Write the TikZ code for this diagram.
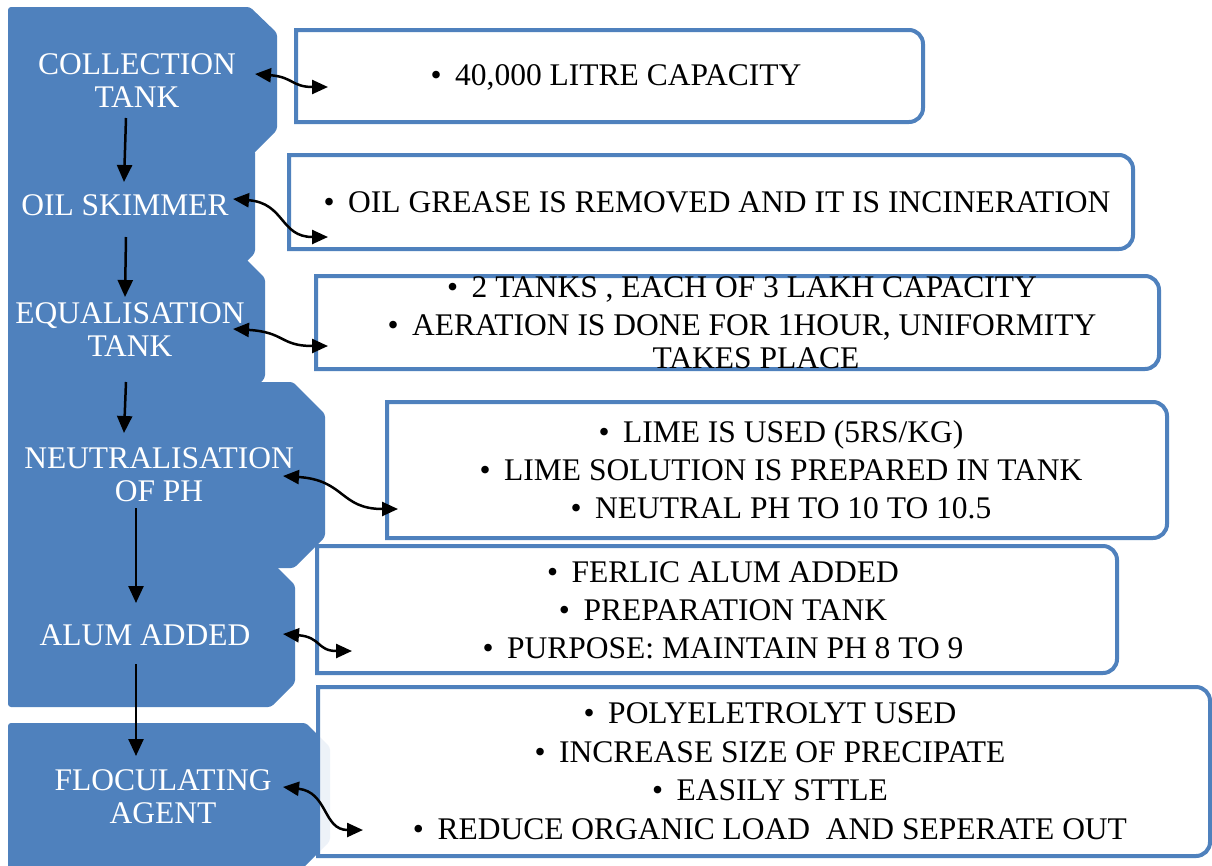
\documentclass[tikz,border=0pt]{standalone}
\usepackage{fontspec}
\setmainfont{Liberation Serif}
\usetikzlibrary{arrows.meta}
\definecolor{sblue}{HTML}{4F81BD}
\newcommand\bul{•\hspace{0.43em}}
\newcommand\rrbox[5][]{\path[infobox,#1] (#2,#3) -- (#4-14,#3) arc[start angle=90,end angle=0,radius=14pt] -- (#4,#5-14) arc[start angle=0,end angle=-90,radius=14pt] -- (#2,#5) -- cycle;}
\tikzset{
  blueshape/.style={fill=sblue, draw=none, rounded corners=3pt},
  infobox/.style={draw=sblue, line width=4pt, fill=white},
  lefttext/.style={text=white, align=center, inner sep=0pt, font=\fontsize{31.5}{33}\selectfont},
  righttext/.style={text=black, align=center, inner sep=0pt},
  flow/.style={line width=2.5pt, -{Triangle[length=17pt,width=15pt]}},
  link/.style={line width=2.5pt, {Triangle[length=16pt,width=14pt]}-{Triangle[length=16pt,width=14pt]}},
}
\begin{document}
\begin{tikzpicture}[x=1pt,y=-1pt]
\fill[white] (0,0) rectangle (1212,865);
\useasboundingbox (0,0) rectangle (1212,865);
% left blue step shapes
\path[blueshape] (8,7) -- (250,7) -- (277,33) -- (277,130) -- (247,160) -- (8,160) -- cycle;
\path[blueshape] (8,150) -- (255,150) -- (255,253) -- (240,268) -- (8,268) -- cycle;
\path[blueshape] (8,258) -- (245,258) -- (265,278) -- (265,378) -- (255,388) -- (8,388) -- cycle;
\path[blueshape] (8,382) -- (293,382) -- (325,414) -- (325,537) -- (294,568) -- (8,568) -- cycle;
\path[blueshape] (8,560) -- (270,560) -- (295,585) -- (295,683) -- (271,707) -- (8,707) -- cycle;
\path[blueshape] (8,723) -- (306,723) -- (330,747) -- (330,841) -- (300,871) -- (8,871) -- cycle;
% right info boxes
\rrbox{296}{30}{923}{122}
\rrbox{289}{155}{1133}{249}
\rrbox{316}{276}{1159}{369}
\rrbox{387}{402}{1167}{538}
\rrbox{317}{546}{1117}{673}
\rrbox[fill opacity=0.9]{318}{687}{1210}{856}
% left labels
\node[lefttext] (c1) at (137,84.1) {\strut COLLECTION\\\strut TANK};
\node[lefttext] (c2) at (125,208.85) {\strut OIL SKIMMER};
\node[lefttext] (c3) at (130,333.1) {\strut EQUALISATION\\\strut TANK};
\node[lefttext] (c4) at (159,478.1) {\strut NEUTRALISATION\\\strut OF PH};
\node[lefttext] (c5) at (145,638.85) {\strut ALUM ADDED};
\node[lefttext] (c6) at (163,800.1) {\strut FLOCULATING\\\strut AGENT};
% right texts
\node[righttext, font=\fontsize{31.5}{38}\selectfont] (d1) at (616,77.85) {\strut\bul 40,000 LITRE CAPACITY};
\node[righttext, font=\fontsize{31.5}{38}\selectfont] (d2) at (717,204.85) {\strut\bul OIL GREASE IS REMOVED AND IT IS INCINERATION};
\node[righttext, font=\fontsize{31.5}{37.5}\selectfont] (d3) at (742,325.7) {\strut\bul 2 TANKS , EACH OF 3 LAKH CAPACITY\\\strut\bul AERATION IS DONE FOR 1HOUR, UNIFORMITY\\[-4.5pt]\strut\hspace*{28pt}TAKES PLACE};
\node[righttext, font=\fontsize{31.5}{38}\selectfont] (d4) at (781,473.1) {\strut\bul LIME IS USED (5RS/KG)\\\strut\bul LIME SOLUTION IS PREPARED IN TANK\\\strut\bul NEUTRAL PH TO 10 TO 10.5};
\node[righttext, font=\fontsize{31.5}{38}\selectfont] (d5) at (723,612.85) {\strut\bul FERLIC ALUM ADDED\\\strut\bul PREPARATION TANK\\\strut\bul PURPOSE: MAINTAIN PH 8 TO 9};
\node[righttext, font=\fontsize{31.5}{38.7}\selectfont] (d6) at (770,773.7) {\strut\bul POLYELETROLYT USED\\\strut\bul INCREASE SIZE OF PRECIPATE\\\strut\bul EASILY STTLE\\\strut\bul REDUCE ORGANIC LOAD~ AND SEPERATE OUT};
% arrow end points
\coordinate (v1a) at (126,118); \coordinate (v1b) at (124,182);
\coordinate (v2a) at (126,237); \coordinate (v2b) at (125,297);
\coordinate (v3a) at (126,382); \coordinate (v3b) at (124,433);
\coordinate (v4a) at (136,508); \coordinate (v4b) at (136,603);
\coordinate (v5a) at (136,664); \coordinate (v5b) at (136,756);
\coordinate (w1a) at (255,74);  \coordinate (w1b) at (328,87);
\coordinate (w2a) at (233,199); \coordinate (w2b) at (328,237);
\coordinate (w3a) at (233,329); \coordinate (w3b) at (328,346);
\coordinate (w4a) at (283,476); \coordinate (w4b) at (398,509);
\coordinate (w5a) at (283,634); \coordinate (w5b) at (352,651);
\coordinate (w6a) at (283,787); \coordinate (w6b) at (363,830);
% flow arrows
\draw[flow] (v1a) -- (v1b);
\draw[flow] (v2a) -- (v2b);
\draw[flow] (v3a) -- (v3b);
\draw[flow] (v4a) -- (v4b);
\draw[flow] (v5a) -- (v5b);
% links
\draw[link] (w1a) .. controls +(38,3) and +(-36,0) .. (w1b);
\draw[link] (w2a) .. controls +(52,4) and +(-48,0) .. (w2b);
\draw[link] (w3a) .. controls +(52,3) and +(-48,0) .. (w3b);
\draw[link] (w4a) .. controls +(62,4) and +(-58,0) .. (w4b);
\draw[link] (w5a) .. controls +(38,3) and +(-35,0) .. (w5b);
\draw[link] (w6a) .. controls +(45,5) and +(-40,0) .. (w6b);
\end{tikzpicture}
\end{document}
